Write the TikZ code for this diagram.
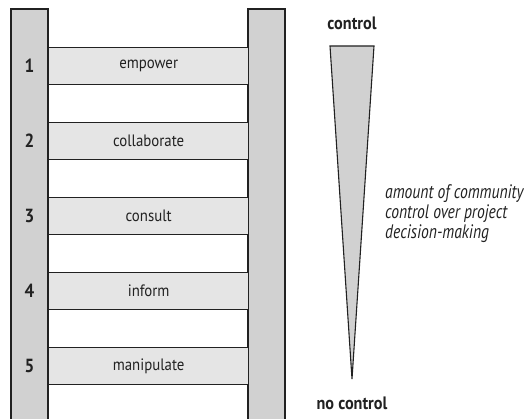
\documentclass[tikz,border=0pt]{standalone}
\usepackage{fontspec}
\setmainfont{PT Sans}[FakeStretch=0.9]
\newfontfamily\notefont{PT Sans}[FakeStretch=0.8]
\definecolor{railgray}{gray}{0.82}
\definecolor{runggray}{gray}{0.9}
\definecolor{ink}{gray}{0.13}
\tikzset{
  rail/.style={draw=ink, fill=railgray, line width=1.3pt},
  rung/.style={draw=ink, fill=runggray, line width=1.3pt, minimum width=200pt, minimum height=37pt, inner sep=0pt, anchor=north west, text=ink, font=\fontsize{16.5}{18}\selectfont},
  num/.style={font=\bfseries\fontsize{19}{21}\selectfont, text=ink},
  endlabel/.style={font=\bfseries\fontsize{18}{20}\selectfont, text=ink},
  note/.style={font=\notefont\itshape\fontsize{19.5}{20}\selectfont, text=ink, align=left, anchor=west, inner sep=0pt}
}
\begin{document}
\begin{tikzpicture}[x=1pt,y=-1pt]
\useasboundingbox (0,0) rectangle (524,419);
\begin{scope}
\clip (0,0) rectangle (524,419);
\draw[rail] (11,9) rectangle (48,430);
\draw[rail] (248,9) rectangle (285,430);
\end{scope}
\foreach \i/\t in {1/empower,2/collaborate,3/consult,4/inform,5/manipulate}{
  \node[rung] (r\i) at (48,{47+75*(\i-1)}) {\t};
  \node[num] (n\i) at (29.5,{65.5+75*(\i-1)}) {\i};
}
\node[endlabel] (top) at (352,23) {control};
\node[endlabel] (bot) at (352,403) {no control};
\draw[draw=ink, fill=railgray, line width=1.1pt, line join=miter] (330,46) -- (374,46) -- (352,379) -- cycle;
\node[note] (txt) at (385,213.5) {amount of community\\control over project\\decision-making};
\end{tikzpicture}
\end{document}
